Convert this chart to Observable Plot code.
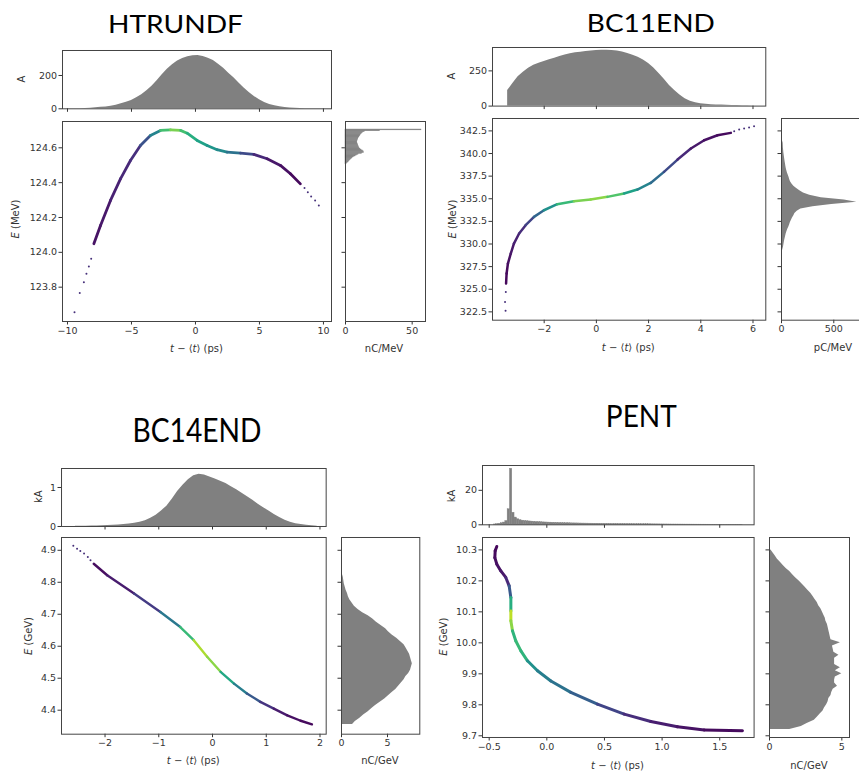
<!DOCTYPE html>
<html><head><meta charset="utf-8">
<script src="https://cdn.jsdelivr.net/npm/d3@7"></script>
<script src="https://cdn.jsdelivr.net/npm/@observablehq/plot@0.6"></script>
<style>
body{margin:0;background:#fff;}
#root{position:relative;width:859px;height:774px;overflow:hidden;background:#fff;}
</style></head>
<body><div id="root"></div>
<script>
// ================= DATA =================
const panelTitles = ["HTRUNDF", "BC11END", "BC14END", "PENT"];
const energyUnits = ["MeV", "MeV", "GeV", "GeV"];
const currentUnits = ["A", "A", "kA", "kA"];
const densityUnits = ["nC/MeV", "pC/MeV", "nC/GeV", "nC/GeV"];

// ---- HTRUNDF ----
const htCurStart = -9.2, htCurWidth = 0.4;
const htCurA = [1,2,4,7,9,11,15,22,30,39,50,66,85,108,135,168,204,237,265,287,302,312,318,320,314,303,290,268,244,214,186,155,125,98,74,54,38,26,18,12,8,5,3,2,1,1];
const htEStart = 124.505, htEWidth = 0.005;
const htEnC = [0.8,1.3,2.2,2.8,3.3,4.0,4.8,5.4,6.2,7.5,8.6,9.8,12.5,14,13.5,13.0,12,11.2,10.5,10.2,9.8,9.6,9.3,9.1,8.9,8.8,8.9,9.1,9.3,9.6,10.0,10.4,10.8,11.2,11.8,12.5,13.2,14.5,26,57];
const htT = [-7.94,-7.42,-6.64,-5.86,-5.08,-4.30,-3.52,-2.73,-1.95,-1.17,-0.65,0.13,0.91,1.69,2.47,3.52,4.56,5.60,6.64,7.42,8.20];
const htE = [124.049,124.154,124.298,124.422,124.527,124.613,124.671,124.700,124.703,124.700,124.684,124.642,124.613,124.589,124.575,124.569,124.562,124.537,124.499,124.451,124.393];
const htDens = [0.05,0.05,0.08,0.1,0.12,0.15,0.35,0.55,0.85,0.75,0.65,0.6,0.55,0.5,0.45,0.3,0.15,0.08,0.05,0.03,0.02];
const htTailT = [-9.45,-9.04,-8.72,-8.52,-8.33,-8.15,8.52,8.78,9.04,9.35,9.64];
const htTailE = [123.656,123.766,123.829,123.877,123.919,123.963,124.370,124.345,124.321,124.298,124.269];
const htTTicks = [-10,-5,0,5,10];
const htETicks = [123.8,124.0,124.2,124.4,124.6];
const htCurTicks = [0,200];
const htDensTicks = [0,50];

// ---- BC11END ----
const b11CurStart = -3.5, b11CurWidth = 0.2;
const b11CurA = [110,160,208,240,268,290,304,316,329,340,352,362,371,378,383,387,391,394,396,396,394,391,384,374,361,346,328,303,270,232,190,147,110,78,53,35,24,17,13,10,8,7,6,5,4,3,2,1];
const b11EStart = 329.0, b11EWidth = 0.25;
const b11EpC = [6,12,18,22,26,30,35,40,45,52,60,70,78,85,95,105,118,128,150,185,300,480,720,600,380,270,210,175,145,118,100,86,78,72,64,56,50,45,41,38,34,31,28,25,22,20,18,17,16,10];
const b11T = [-3.46,-3.44,-3.39,-3.28,-3.16,-2.96,-2.71,-2.39,-2.01,-1.50,-0.86,-0.22,0.42,1.06,1.57,2.08,2.59,3.11,3.62,4.13,4.64,5.15];
const b11E = [325.63,326.74,327.84,328.95,330.05,331.16,332.08,333.00,333.73,334.40,334.73,334.91,335.21,335.58,336.02,336.75,337.97,339.33,340.55,341.47,342.02,342.28];
const b11Dens = [0.02,0.02,0.03,0.05,0.08,0.1,0.15,0.25,0.4,0.6,0.75,0.85,0.8,0.65,0.5,0.4,0.3,0.15,0.08,0.05,0.03,0.02];
const b11TailT = [-3.48,-3.50,-3.47,5.28,5.47,5.66,5.85,6.04];
const b11TailE = [322.61,323.6,324.7,342.47,342.65,342.76,342.87,343.02];
const b11TTicks = [-2,0,2,4,6];
const b11ETicks = [322.5,325,327.5,330,332.5,335,337.5,340,342.5];
const b11CurTicks = [0,250];
const b11DensTicks = [0,500];

// ---- BC14END ----
const b14CurStart = -2.6, b14CurWidth = 0.1;
const b14CurkA = [0.003,0.005,0.008,0.01,0.015,0.02,0.025,0.03,0.035,0.05,0.065,0.08,0.11,0.15,0.21,0.29,0.40,0.52,0.70,0.90,1.06,1.20,1.30,1.34,1.32,1.27,1.22,1.16,1.10,1.02,0.94,0.85,0.76,0.67,0.57,0.48,0.40,0.31,0.23,0.16,0.11,0.07,0.05,0.03,0.02,0.005];
const b14EStart = 4.35, b14EWidth = 0.01;
const b14EnC = [1.2,1.5,2.0,2.4,2.9,3.3,3.7,4.2,4.7,5.1,5.5,5.9,6.2,6.5,6.8,7.0,7.3,7.5,7.6,7.7,7.6,7.5,7.4,7.2,7.0,6.8,6.4,6.0,5.5,5.1,4.8,4.3,3.8,3.4,2.9,2.3,1.8,1.4,1.15,0.9,0.75,0.65,0.5,0.4,0.3,0.25,0.2,0.1,0.05];
const b14T = [-2.21,-1.96,-1.46,-0.97,-0.60,-0.35,-0.10,0.15,0.40,0.64,0.89,1.14,1.39,1.64,1.85];
const b14E = [4.858,4.822,4.765,4.707,4.660,4.619,4.567,4.520,4.483,4.452,4.426,4.405,4.384,4.367,4.356];
const b14Dens = [0.02,0.05,0.1,0.25,0.55,0.8,0.95,0.7,0.5,0.35,0.2,0.1,0.05,0.03,0.02];
const b14TailT = [-2.59,-2.52,-2.46,-2.39,-2.32,-2.27];
const b14TailE = [4.914,4.905,4.898,4.890,4.879,4.869];
const b14TTicks = [-2,-1,0,1,2];
const b14ETicks = [4.4,4.5,4.6,4.7,4.8,4.9];
const b14CurTicks = [0,1];
const b14DensTicks = [0,5];

// ---- PENT ----
const pCurStart = -0.46, pCurWidth = 0.02;
const pCurkA = [0.2,0.4,0.6,0.9,1.3,2.2,9.0,32.5,7.0,4.2,
 3.2,2.7,2.4,2.2,2.05,1.95,1.85,1.75,1.65,1.55,
 1.5,1.4,1.35,1.3,1.25,1.2,1.15,1.1,1.05,1.0,
 0.95,0.9,0.88,0.85,0.82,0.8,0.78,0.75,0.72,0.7,
 0.68,0.66,0.65,0.63,0.62,0.6,0.58,0.57,0.55,0.54,
 0.52,0.5,0.49,0.48,0.46,0.45,0.43,0.42,0.41,0.4,
 0.38,0.37,0.35,0.34,0.33,0.31,0.3,0.29,0.27,0.26,
 0.25,0.24,0.22,0.21,0.2,0.19,0.18,0.17,0.16,0.15,
 0.15,0.14,0.13,0.12,0.12,0.11,0.1,0.1,0.09,0.09,
 0.08,0.08,0.07,0.07,0.06,0.06,0.06,0.05,0.05,0.05,
 0.04,0.04,0.04,0.04,0.03,0.03,0.03,0.03];
const pEStart = 9.715, pEWidth = 0.01;
const pEnC = [1.4,2.2,2.6,3.1,3.3,3.5,3.7,3.8,3.95,4.05,4.1,4.25,4.3,4.4,4.7,4.5,4.5,4.55,5.0,4.55,4.9,4.5,4.5,4.5,4.8,4.45,4.4,4.35,4.9,4.25,4.2,4.15,4.1,4.05,4.0,3.9,3.85,3.75,3.65,3.55,3.4,3.3,3.15,3.0,2.85,2.65,2.45,2.25,2.05,1.8,1.6,1.4,1.15,0.95,0.75,0.55,0.4,0.25,0.1];
const pT = [-0.434,-0.448,-0.451,-0.434,-0.399,-0.356,-0.327,-0.312,-0.312,-0.312,-0.298,-0.269,-0.225,-0.168,-0.081,0.035,0.208,0.439,0.671,0.902,1.133,1.365,1.697];
const pE = [10.311,10.297,10.275,10.254,10.232,10.211,10.184,10.146,10.103,10.071,10.039,10.006,9.974,9.942,9.910,9.877,9.840,9.802,9.770,9.746,9.729,9.719,9.716];
const pDens = [0.02,0.02,0.03,0.04,0.05,0.08,0.15,0.4,0.85,0.95,0.7,0.6,0.75,0.55,0.45,0.4,0.35,0.25,0.15,0.1,0.06,0.04,0.02];
const pTailT = [];
const pTailE = [];
const pTTicks = [-0.5,0,0.5,1.0,1.5];
const pETicks = [9.7,9.8,9.9,10.0,10.1,10.2,10.3];
const pCurTicks = [0,20];
const pDensTicks = [0,5];

// ================= LAYOUT / STYLE =================
const FRAME = "#444", HIST = "#808080", TEXT = "#333";
const root = document.getElementById("root");

const panels = [
  {title: 0, cur: {start: htCurStart, width: htCurWidth, vals: htCurA, ticks: htCurTicks, rect: false},
   eh: {start: htEStart, width: htEWidth, vals: htEnC, ticks: htDensTicks, rect: true},
   t: htT, E: htE, d: htDens, tailT: htTailT, tailE: htTailE, tTicks: htTTicks, eTicks: htETicks,
   tFmt: "d", eFmt: ".1f",
   topBox: [62, 50, 331, 108.3], mainBox: [62, 121, 331, 321], rightBox: [345, 121, 425, 321],
   tDom: [-10.39, 10.63], eDom: [123.603, 124.751], curDom: [0, 350], ehDom: [0, 60], sw: 2.8},
  {title: 1, cur: {start: b11CurStart, width: b11CurWidth, vals: b11CurA, ticks: b11CurTicks, rect: false},
   eh: {start: b11EStart, width: b11EWidth, vals: b11EpC, ticks: b11DensTicks, rect: false},
   t: b11T, E: b11E, d: b11Dens, tailT: b11TailT, tailE: b11TailE, tTicks: b11TTicks, eTicks: b11ETicks,
   tFmt: "d", eFmt: ".1f",
   topBox: [491.7, 46.7, 765, 105.3], mainBox: [491.7, 118.3, 765, 320], rightBox: [781, 118.3, 861, 320],
   tDom: [-3.98, 6.49], eDom: [321.58, 343.87], curDom: [0, 416], ehDom: [0, 765], sw: 2.5},
  {title: 2, cur: {start: b14CurStart, width: b14CurWidth, vals: b14CurkA, ticks: b14CurTicks, rect: false},
   eh: {start: b14EStart, width: b14EWidth, vals: b14EnC, ticks: b14DensTicks, rect: false},
   t: b14T, E: b14E, d: b14Dens, tailT: b14TailT, tailE: b14TailE, tTicks: b14TTicks, eTicks: b14ETicks,
   tFmt: "d", eFmt: ".1f",
   topBox: [61, 467.7, 325.7, 525.7], mainBox: [61, 537.3, 325.7, 734], rightBox: [340.7, 537.3, 419, 734],
   tDom: [-2.81, 2.115], eDom: [4.325, 4.94], curDom: [0, 1.487], ehDom: [0, 8.51], sw: 2.4},
  {title: 3, cur: {start: pCurStart, width: pCurWidth, vals: pCurkA, ticks: pCurTicks, rect: true},
   eh: {start: pEStart, width: pEWidth, vals: pEnC, ticks: pDensTicks, rect: false},
   t: pT, E: pE, d: pDens, tailT: pTailT, tailE: pTailE, tTicks: pTTicks, eTicks: pETicks,
   tFmt: ".1f", eFmt: ".1f",
   topBox: [481.7, 465, 753.3, 524.3], mainBox: [481.7, 536.7, 753.3, 736.7], rightBox: [769.3, 536.7, 849.3, 736.7],
   tDom: [-0.558, 1.798], eDom: [9.6945, 10.34], curDom: [0, 34.4], ehDom: [0, 5.53], sw: 3.0}
];

function base(box, m) {
  const w = box[2] - box[0], h = box[3] - box[1];
  return {
    width: w + m[1] + m[3], height: h + m[0] + m[2],
    marginTop: m[0], marginRight: m[1], marginBottom: m[2], marginLeft: m[3],
    style: {fontFamily: "DejaVu Sans", fontSize: "9.5px", color: TEXT, background: "transparent", overflow: "visible"}
  };
}
function put(svg, box, m) {
  svg.style.position = "absolute";
  svg.style.left = (box[0] - m[3]) + "px";
  svg.style.top = (box[1] - m[0]) + "px";
  root.appendChild(svg);
}
const blank = () => "";
function binsOf(h) {
  return h.vals.map((v, i) => ({a: h.start + i * h.width, b: h.start + (i + 1) * h.width, c: h.start + (i + 0.5) * h.width, v}));
}

panels.forEach(p => {
  // main scatter
  {
    const m = [2, 2, 22, 44];
    const segs = [];
    for (let i = 0; i < p.t.length - 1; i++)
      segs.push({x1: p.t[i], y1: p.E[i], x2: p.t[i + 1], y2: p.E[i + 1], d: (p.d[i] + p.d[i + 1]) / 2});
    const tails = p.tailT.map((t, i) => ({t, E: p.tailE[i]}));
    const svg = Plot.plot({
      ...base(p.mainBox, m),
      x: {domain: p.tDom, ticks: p.tTicks, tickFormat: d3.format(p.tFmt), tickSize: 3.5, tickPadding: 2, label: null},
      y: {domain: p.eDom, ticks: p.eTicks, tickFormat: d3.format(p.eFmt), tickSize: 3.5, tickPadding: 2, label: null},
      color: {type: "linear", scheme: "viridis", domain: [0, 1]},
      marks: [
        Plot.link(segs, {x1: "x1", y1: "y1", x2: "x2", y2: "y2", stroke: "d", strokeWidth: p.sw, strokeLinecap: "round"}),
        Plot.dot(tails, {x: "t", y: "E", r: 1, fill: "#46307a"}),
        Plot.frame({stroke: FRAME})
      ]
    });
    put(svg, p.mainBox, m);
  }
  // top current histogram
  {
    const m = [2, 2, 6, 44];
    const bins = binsOf(p.cur);
    const mark = p.cur.rect
      ? Plot.rectY(bins, {x1: "a", x2: "b", y: "v", fill: HIST, stroke: HIST, strokeWidth: 0.4, inset: 0})
      : Plot.areaY(bins, {x: "c", y: "v", fill: HIST, curve: "linear"});
    const svg = Plot.plot({
      ...base(p.topBox, m),
      x: {domain: p.tDom, ticks: p.tTicks, tickFormat: blank, tickSize: 3.5, label: null},
      y: {domain: p.curDom, ticks: p.cur.ticks, tickFormat: d3.format("d"), tickSize: 3.5, tickPadding: 2, label: null},
      marks: [mark, Plot.frame({stroke: FRAME})]
    });
    put(svg, p.topBox, m);
  }
  // right energy histogram
  {
    const m = [2, 3, 22, 6];
    const bins = binsOf(p.eh);
    const mark = p.eh.rect
      ? Plot.rectX(bins, {y1: "a", y2: "b", x: "v", fill: HIST, stroke: HIST, strokeWidth: 0.4, inset: 0})
      : Plot.areaX(bins, {y: "c", x: "v", fill: HIST, curve: "linear"});
    const svg = Plot.plot({
      ...base(p.rightBox, m),
      x: {domain: p.ehDom, ticks: p.eh.ticks, tickFormat: d3.format("d"), tickSize: 3.5, tickPadding: 2, label: null},
      y: {domain: p.eDom, ticks: p.eTicks, tickFormat: blank, tickSize: 3.5, label: null},
      marks: [mark, Plot.frame({stroke: FRAME})]
    });
    put(svg, p.rightBox, m);
  }
});

// ================= TEXT OVERLAY =================
const ov = d3.create("svg").attr("width", 859).attr("height", 774)
  .style("position", "absolute").style("left", "0px").style("top", "0px").style("pointer-events", "none");

const titlePos = [
  {x: 175.5, y: 33.3, fs: 25, len: 135},
  {x: 650.8, y: 31.7, fs: 25, len: 128},
  {x: 197, y: 441.7, fs: 32, len: 129},
  {x: 641.3, y: 427.3, fs: 30, len: 71}
];
titlePos.forEach((tp, i) => {
  ov.append("text").attr("x", tp.x).attr("y", tp.y).attr("text-anchor", "middle")
    .attr("font-family", "Lato, 'Open Sans', sans-serif").attr("font-size", tp.fs)
    .attr("textLength", tp.len).attr("lengthAdjust", "spacingAndGlyphs")
    .attr("fill", "#000").text(panelTitles[i]);
});

function lab(parts, x, y, rot) {
  const t = ov.append("text")
    .attr("transform", `translate(${x},${y})` + (rot ? " rotate(-90)" : ""))
    .attr("text-anchor", "middle").attr("dominant-baseline", "central")
    .attr("font-family", "DejaVu Sans").attr("font-size", 10).attr("fill", TEXT);
  parts.forEach(([s, it]) => t.append("tspan").attr("font-style", it ? "italic" : null).text(s));
}
const labelPos = [
  {ey: [15, 219], tx: [196.5, 348], dx: [384, 348], cy: [20.7, 79]},
  {ey: [452, 219], tx: [628.3, 347], dx: [833, 347], cy: [450.7, 76]},
  {ey: [28, 636], tx: [193.3, 760], dx: [380, 760], cy: [38.3, 496.7]},
  {ey: [443.3, 636.7], tx: [617.5, 765], dx: [809, 765], cy: [450.7, 496]}
];
labelPos.forEach((lp, i) => {
  lab([["E", 1], [` (${energyUnits[i]})`, 0]], lp.ey[0], lp.ey[1], true);
  lab([["t", 1], [" − ⟨", 0], ["t", 1], ["⟩ (ps)", 0]], lp.tx[0], lp.tx[1], false);
  lab([[densityUnits[i], 0]], lp.dx[0], lp.dx[1], false);
  lab([[currentUnits[i], 0]], lp.cy[0], lp.cy[1], true);
});
root.appendChild(ov.node());
</script>
</body></html>
